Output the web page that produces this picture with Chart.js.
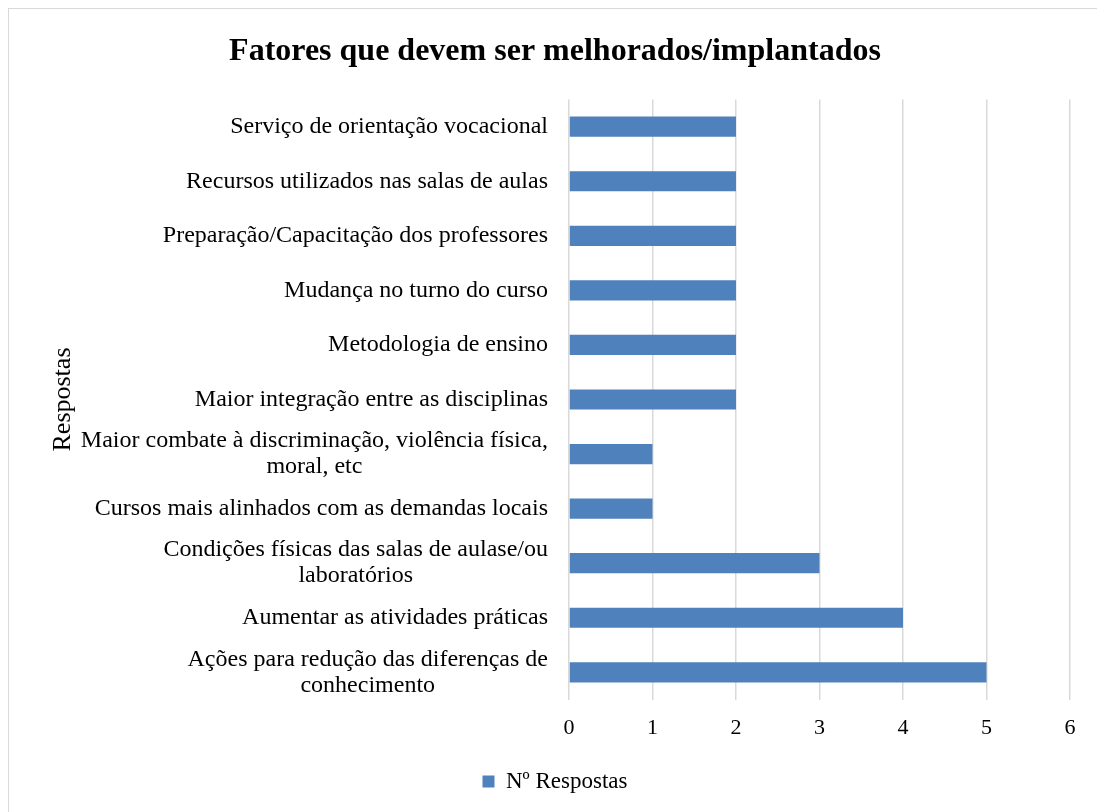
<!DOCTYPE html>
<html>
<head>
<meta charset="utf-8">
<script src="https://cdn.jsdelivr.net/npm/chart.js@4/dist/chart.umd.min.js"></script>
<style>
    html, body { margin: 0; padding: 0; background: #fff; overflow: hidden; }
    #frame { position: absolute; left: 8px; top: 8px; width: 1100px; height: 820px; border: 1px solid #d9d9d9; box-sizing: border-box; }
    #wrap { position: absolute; left: 9px; top: 9px; width: 1088px; height: 803px; }
</style>
</head>
<body>
<div id="frame"></div>
<div id="wrap"><canvas id="chart"></canvas></div>
<script>
    // top to bottom, as the chart shows them
    const categories = [
        `Serviço de orientação vocacional`,
        `Recursos utilizados nas salas de aulas`,
        `Preparação/Capacitação dos professores`,
        `Mudança no turno do curso`,
        `Metodologia de ensino`,
        `Maior integração entre as disciplinas`,
        [`Maior combate à discriminação, violência física,`, `moral, etc`],
        `Cursos mais alinhados com as demandas locais`,
        [`Condições físicas das salas de aulase/ou`, `laboratórios`],
        `Aumentar as atividades práticas`,
        [`Ações para redução das diferenças de`, `conhecimento`]
    ]
    const respostas = [2, 2, 2, 2, 2, 2, 1, 1, 3, 4, 5]
    const xTicks = [0, 1, 2, 3, 4, 5, 6]

    const FONT = `'Liberation Serif', 'Times New Roman', serif`
    const BLUE = `#4f81bd`
    const GRID = `#d9d9d9`

    // draws the category labels: right aligned, wrapped lines centred on each other
    const catLabels = {
        id: `catLabels`,
        afterDraw(chart) {
            const ctx = chart.ctx
            const scale = chart.scales.y
            const right = chart.chartArea.left - 21
            const lh = 26
            ctx.save()
            ctx.font = `24px ${FONT}`
            ctx.fillStyle = `#000`
            ctx.textBaseline = `middle`
            ctx.textAlign = `center`
            categories.forEach((label, i) => {
                const lines = Array.isArray(label) ? label : [label]
                const w = Math.max(...lines.map(l => ctx.measureText(l).width))
                const cx = right - w / 2
                const y0 = scale.getPixelForTick(i) - (lines.length - 1) * lh / 2
                lines.forEach((l, k) => ctx.fillText(l, cx, y0 + k * lh))
            })
            ctx.restore()
        }
    }

    new Chart(document.getElementById(`chart`), {
        type: `bar`,
        data: {
            labels: categories,
            datasets: [{
                label: `Nº Respostas`,
                data: respostas,
                backgroundColor: BLUE,
                borderWidth: 0,
                categoryPercentage: 1,
                barPercentage: 0.37
            }]
        },
        options: {
            indexAxis: `y`,
            responsive: true,
            maintainAspectRatio: false,
            animation: false,
            layout: { padding: { top: 14, left: 31, right: 27, bottom: 9 } },
            scales: {
                x: {
                    min: 0,
                    max: 6,
                    afterBuildTicks: (scale) => { scale.ticks = xTicks.map(v => ({ value: v })) },
                    grid: { color: GRID, lineWidth: 1.5, drawTicks: false },
                    border: { display: false },
                    ticks: { color: `#000`, font: { family: FONT, size: 22 }, padding: 15 }
                },
                y: {
                    afterFit: (scale) => { scale.width = 529 },
                    grid: { display: false },
                    border: { display: false },
                    ticks: { display: false },
                    title: {
                        display: true,
                        text: `Respostas`,
                        color: `#000`,
                        font: { family: FONT, size: 26 },
                        padding: { top: 8, bottom: 0 }
                    }
                }
            },
            plugins: {
                title: {
                    display: true,
                    text: `Fatores que devem ser melhorados/implantados`,
                    color: `#000`,
                    font: { family: FONT, size: 32, weight: `bold` },
                    padding: { top: 10, bottom: 28 }
                },
                legend: {
                    position: `bottom`,
                    labels: {
                        color: `#000`,
                        font: { family: FONT, size: 23 },
                        boxWidth: 12,
                        boxHeight: 12,
                        padding: 14
                    }
                },
                tooltip: { enabled: false }
            }
        },
        plugins: [catLabels]
    })
</script>
</body>
</html>
